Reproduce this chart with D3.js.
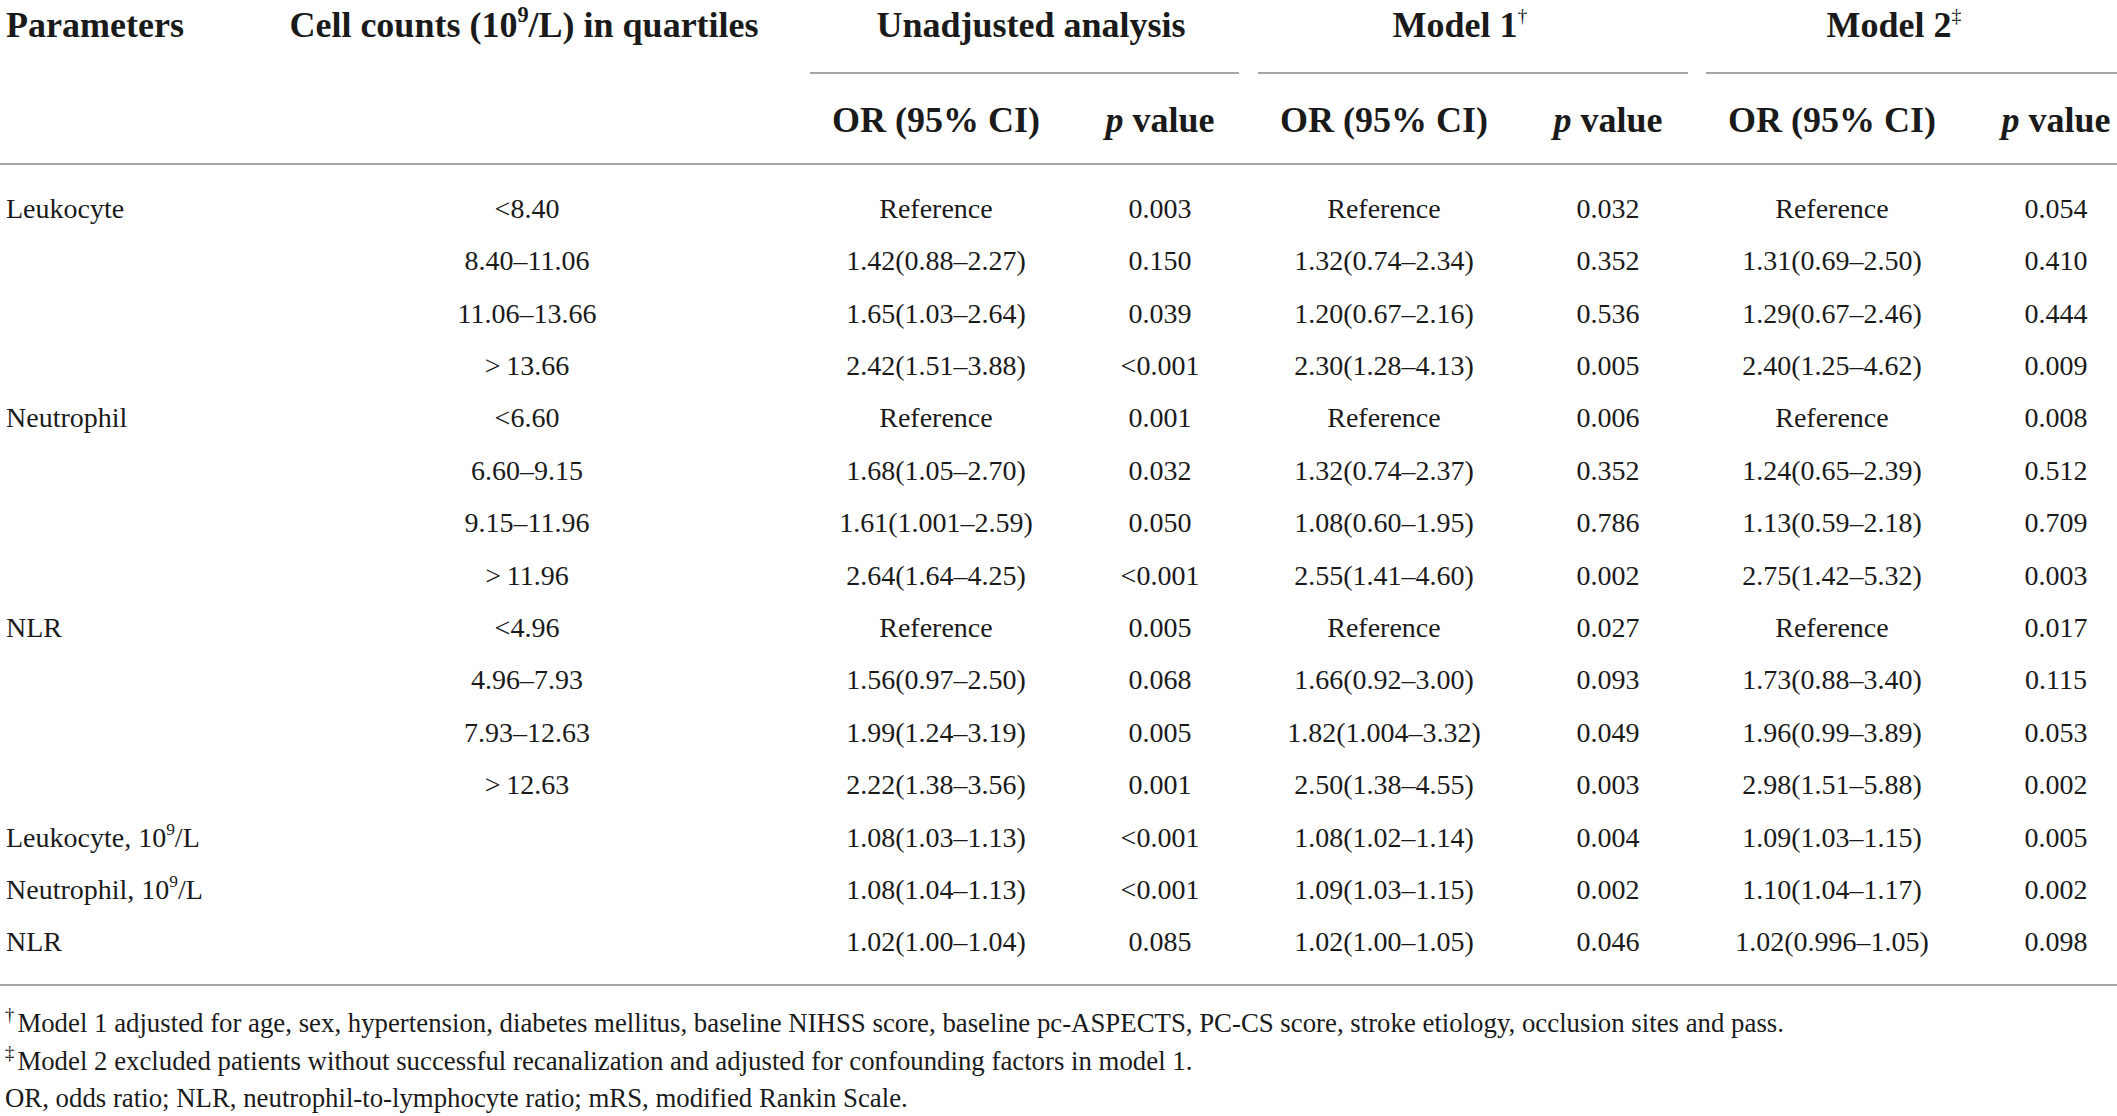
<!DOCTYPE html>
<html>
<head>
<meta charset="utf-8">
<script src="https://cdn.jsdelivr.net/npm/d3@7/dist/d3.min.js"></script>
<style>
  html, body { margin: 0; padding: 0; background: #fff; }
  svg { display: block; }
  text { font-family: "Liberation Serif", "DejaVu Serif", serif; fill: #1a1a1a; }
</style>
</head>
<body>
<svg id="chart" width="2117" height="1116"></svg>
<script>
// ---------- data ----------
const params = ["Leukocyte", "", "", "", "Neutrophil", "", "", "", "NLR", "", "", "",
  "Leukocyte, 10^9/L", "Neutrophil, 10^9/L", "NLR"];
const quartiles = ["<8.40", "8.40–11.06", "11.06–13.66", ">\u200913.66",
  "<6.60", "6.60–9.15", "9.15–11.96", ">\u200911.96",
  "<4.96", "4.96–7.93", "7.93–12.63", ">\u200912.63", "", "", ""];
const unadjOR = ["Reference", "1.42(0.88–2.27)", "1.65(1.03–2.64)", "2.42(1.51–3.88)",
  "Reference", "1.68(1.05–2.70)", "1.61(1.001–2.59)", "2.64(1.64–4.25)",
  "Reference", "1.56(0.97–2.50)", "1.99(1.24–3.19)", "2.22(1.38–3.56)",
  "1.08(1.03–1.13)", "1.08(1.04–1.13)", "1.02(1.00–1.04)"];
const unadjP = ["0.003", "0.150", "0.039", "<0.001", "0.001", "0.032", "0.050", "<0.001",
  "0.005", "0.068", "0.005", "0.001", "<0.001", "<0.001", "0.085"];
const model1OR = ["Reference", "1.32(0.74–2.34)", "1.20(0.67–2.16)", "2.30(1.28–4.13)",
  "Reference", "1.32(0.74–2.37)", "1.08(0.60–1.95)", "2.55(1.41–4.60)",
  "Reference", "1.66(0.92–3.00)", "1.82(1.004–3.32)", "2.50(1.38–4.55)",
  "1.08(1.02–1.14)", "1.09(1.03–1.15)", "1.02(1.00–1.05)"];
const model1P = ["0.032", "0.352", "0.536", "0.005", "0.006", "0.352", "0.786", "0.002",
  "0.027", "0.093", "0.049", "0.003", "0.004", "0.002", "0.046"];
const model2OR = ["Reference", "1.31(0.69–2.50)", "1.29(0.67–2.46)", "2.40(1.25–4.62)",
  "Reference", "1.24(0.65–2.39)", "1.13(0.59–2.18)", "2.75(1.42–5.32)",
  "Reference", "1.73(0.88–3.40)", "1.96(0.99–3.89)", "2.98(1.51–5.88)",
  "1.09(1.03–1.15)", "1.10(1.04–1.17)", "1.02(0.996–1.05)"];
const model2P = ["0.054", "0.410", "0.444", "0.009", "0.008", "0.512", "0.709", "0.003",
  "0.017", "0.115", "0.053", "0.002", "0.005", "0.002", "0.098"];

const topHeaders = ["Parameters", "Cell counts (10^9/L) in quartiles"];
const groupHeaders = ["Unadjusted analysis", "Model 1", "Model 2"];
const groupMarks = ["", "†", "‡"];
const subHeaders = ["OR (95% CI)", "p value"];
const footnotes = [
  {mark: "†", text: "Model 1 adjusted for age, sex, hypertension, diabetes mellitus, baseline NIHSS score, baseline pc-ASPECTS, PC-CS score, stroke etiology, occlusion sites and pass."},
  {mark: "‡", text: "Model 2 excluded patients without successful recanalization and adjusted for confounding factors in model 1."},
  {mark: "", text: "OR, odds ratio; NLR, neutrophil-to-lymphocyte ratio; mRS, modified Rankin Scale."}
];

// ---------- layout ----------
const W = 2117;
const svg = d3.select("#chart");
const ruleColor = "#a6a6a6";
const dataFont = 28, headFont = 36, noteFont = 26.8;

const colKeys = ["param", "cells", "uOR", "uP", "m1OR", "m1P", "m2OR", "m2P"];
const colX = d3.scaleOrdinal().domain(colKeys).range([6, 527, 936, 1160, 1384, 1608, 1832, 2056]);
const colAnchor = d3.scaleOrdinal().domain(colKeys).range(["start", "middle", "middle", "middle", "middle", "middle", "middle", "middle"]);

const rowIdx = d3.range(params.length);
const y = d3.scaleBand().domain(rowIdx).range([181.8, 181.8 + 52.4 * rowIdx.length]);

const groupSpan = d3.scaleOrdinal().domain(groupHeaders).range([[810, 1239], [1258, 1688], [1706, 2117]]);
const groupCenter = d3.scaleOrdinal().domain(groupHeaders).range([1031, 1460, 1894]);

// helper: write text with "^n" superscripts
function richText(sel, str, size) {
  const parts = str.split(/\^(\d+)/);
  let pendingDy = 0;
  parts.forEach((p, i) => {
    if (p === "") return;
    if (i % 2 === 1) {
      sel.append("tspan").attr("font-size", size * 0.62).attr("dy", -size * 0.42).text(p);
      pendingDy = size * 0.42;
    } else {
      const t = sel.append("tspan").text(p);
      if (pendingDy) { t.attr("dy", pendingDy); pendingDy = 0; }
    }
  });
}

// ---------- header ----------
const hdr = svg.append("g").attr("font-weight", "bold").attr("font-size", headFont);
hdr.append("text").attr("x", colX("param")).attr("y", 37).attr("text-anchor", "start")
  .call(s => richText(s, topHeaders[0], headFont));
hdr.append("text").attr("x", colX("cells") - 3).attr("y", 37).attr("text-anchor", "middle")
  .call(s => richText(s, topHeaders[1], headFont));

groupHeaders.forEach((g, i) => {
  const t = hdr.append("text").attr("x", groupCenter(g)).attr("y", 37).attr("text-anchor", "middle");
  t.append("tspan").text(g);
  if (groupMarks[i]) {
    t.append("tspan").attr("font-size", headFont * 0.55).attr("font-weight", "normal")
      .attr("dy", -headFont * 0.42).text(groupMarks[i]);
  }
  const span = groupSpan(g);
  svg.append("line").attr("x1", span[0]).attr("x2", span[1]).attr("y1", 73).attr("y2", 73)
    .attr("stroke", ruleColor).attr("stroke-width", 2);
});

const subCols = [["uOR", "uP"], ["m1OR", "m1P"], ["m2OR", "m2P"]];
subCols.forEach(pair => {
  pair.forEach((k, j) => {
    const t = hdr.append("text").attr("x", colX(k)).attr("y", 132).attr("text-anchor", "middle");
    if (j === 0) {
      t.text(subHeaders[0]);
    } else {
      const words = subHeaders[1].split(" ");
      t.append("tspan").attr("font-style", "italic").text(words[0]);
      t.append("tspan").text(" " + words[1]);
    }
  });
});

svg.append("line").attr("x1", 0).attr("x2", W).attr("y1", 164).attr("y2", 164)
  .attr("stroke", ruleColor).attr("stroke-width", 2);

// ---------- body ----------
const columns = {param: params, cells: quartiles, uOR: unadjOR, uP: unadjP,
  m1OR: model1OR, m1P: model1P, m2OR: model2OR, m2P: model2P};
const body = svg.append("g").attr("font-size", dataFont);
colKeys.forEach(k => {
  body.selectAll(null).data(rowIdx.filter(i => columns[k][i] !== "")).join("text")
    .attr("x", colX(k))
    .attr("y", i => y(i) + y.bandwidth() / 2 + dataFont * 0.35)
    .attr("text-anchor", colAnchor(k))
    .each(function(i) { richText(d3.select(this), columns[k][i], dataFont); });
});

svg.append("line").attr("x1", 0).attr("x2", W).attr("y1", 985).attr("y2", 985)
  .attr("stroke", ruleColor).attr("stroke-width", 2);

// ---------- footnotes ----------
const notes = svg.append("g").attr("font-size", noteFont);
const noteY = d3.scaleLinear().domain([0, footnotes.length - 1]).range([1032, 1107]);
footnotes.forEach((f, i) => {
  const t = notes.append("text").attr("x", 5).attr("y", noteY(i));
  if (f.mark) {
    t.append("tspan").attr("font-size", noteFont * 0.7).attr("dy", -noteFont * 0.4).text(f.mark);
    t.append("tspan").attr("dy", noteFont * 0.4).attr("dx", 3).text(f.text);
  } else {
    t.text(f.text);
  }
});
</script>
</body>
</html>
